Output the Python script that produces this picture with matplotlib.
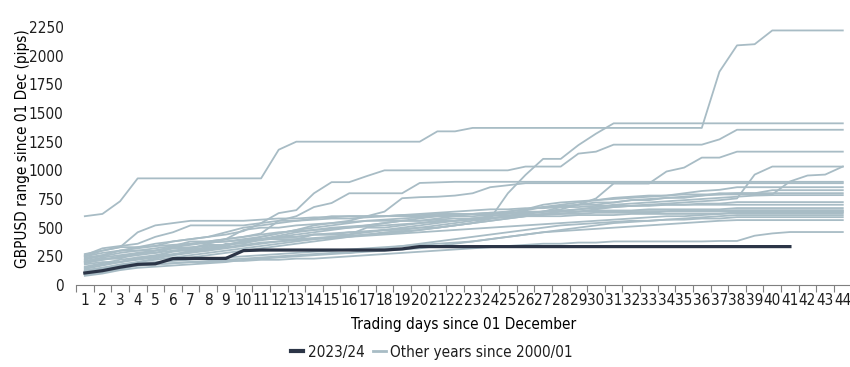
import os
import numpy as np
import matplotlib
matplotlib.use("Agg")
import matplotlib.pyplot as plt
from matplotlib import font_manager
from matplotlib.lines import Line2D

# trading days since 1 December
days = list(range(1, 45))

# GBPUSD high-low range since 01 Dec, pips
gbp_2023_24 = [105, 125, 155, 180, 185, 230, 232, 232, 232, 300,
               305, 305, 305, 305, 305, 305, 305, 305, 315, 335,
               335, 335, 335, 335, 335, 335, 335, 335, 335, 335,
               335, 335, 335, 335, 335, 335, 335, 335, 335, 335,
               335]

other_01 = [600, 620, 730, 930, 930, 930, 930, 930, 930, 930, 930, 1180, 1250, 1250, 1250,
            1250, 1250, 1250, 1250, 1250, 1340, 1340, 1370, 1370, 1370, 1370, 1370, 1370, 1370, 1370,
            1370, 1370, 1370, 1370, 1370, 1370, 1860, 2090, 2100, 2220, 2220, 2220, 2220, 2220]
other_02 = [200, 230, 230, 280, 280, 320, 320, 350, 350, 380, 400, 420, 420, 440, 440,
            460, 460, 480, 480, 500, 500, 520, 540, 580, 800, 960, 1100, 1100, 1220, 1320,
            1410, 1410, 1410, 1410, 1410, 1410, 1410, 1410, 1410, 1410, 1410, 1410, 1410, 1410]
other_03 = [220, 260, 300, 330, 360, 380, 400, 420, 440, 470, 540, 627, 653, 800, 897,
            897, 950, 1000, 1000, 1000, 1000, 1000, 1000, 1000, 1000, 1033, 1033, 1033, 1146, 1163,
            1224, 1224, 1224, 1224, 1224, 1224, 1270, 1354, 1354, 1354, 1354, 1354, 1354, 1354]
other_04 = [160, 190, 220, 240, 260, 290, 310, 330, 350, 370, 390, 410, 420, 440, 450,
            460, 470, 480, 490, 500, 520, 540, 560, 580, 600, 620, 640, 680, 700, 755,
            885, 885, 885, 990, 1024, 1111, 1111, 1163, 1163, 1163, 1163, 1163, 1163, 1163]
other_05 = [140, 170, 200, 230, 250, 270, 290, 310, 330, 350, 370, 380, 400, 410, 420,
            430, 440, 450, 460, 480, 500, 520, 540, 560, 580, 600, 610, 620, 640, 660,
            680, 690, 700, 710, 720, 730, 740, 755, 963, 1033, 1033, 1033, 1033, 1033]
other_06 = [120, 150, 180, 200, 220, 240, 260, 280, 300, 320, 340, 360, 380, 400, 420,
            440, 460, 480, 500, 520, 540, 560, 580, 600, 620, 650, 680, 700, 720, 740,
            760, 770, 780, 780, 790, 790, 790, 790, 790, 790, 903, 955, 963, 1033]
other_07 = [250, 280, 300, 300, 320, 340, 380, 380, 400, 420, 450, 560, 600, 680, 715,
            800, 800, 800, 800, 890, 895, 900, 900, 900, 900, 900, 900, 900, 900, 900,
            900, 900, 900, 900, 900, 900, 900, 900, 900, 900, 900, 900, 900, 900]
other_08 = [200, 220, 250, 270, 300, 330, 350, 370, 380, 400, 420, 450, 480, 520, 540,
            560, 600, 640, 757, 766, 770, 780, 800, 853, 870, 888, 888, 888, 888, 888,
            888, 888, 888, 888, 888, 888, 888, 888, 888, 888, 888, 888, 888, 888]
other_09 = [270, 300, 330, 330, 340, 350, 360, 370, 380, 390, 400, 430, 460, 480, 500,
            510, 520, 540, 560, 580, 600, 610, 620, 630, 640, 660, 700, 720, 730, 740,
            750, 760, 770, 780, 800, 820, 830, 853, 853, 853, 853, 853, 853, 853]
other_10 = [180, 200, 200, 240, 240, 300, 300, 300, 360, 360, 400, 400, 400, 440, 440,
            440, 500, 500, 520, 540, 560, 560, 580, 580, 600, 640, 640, 660, 700, 720,
            720, 740, 740, 760, 760, 780, 800, 800, 800, 827, 827, 827, 827, 827]
other_11 = [100, 130, 160, 200, 230, 260, 300, 320, 340, 380, 420, 450, 480, 500, 520,
            540, 560, 560, 560, 560, 580, 600, 620, 620, 640, 660, 680, 690, 700, 700,
            720, 740, 750, 760, 770, 780, 790, 801, 801, 801, 801, 801, 801, 801]
other_12 = [90, 110, 140, 170, 190, 220, 240, 260, 280, 300, 320, 340, 360, 380, 400,
            420, 440, 460, 470, 480, 500, 520, 540, 560, 580, 600, 620, 640, 660, 680,
            700, 710, 720, 730, 740, 750, 760, 770, 780, 784, 784, 784, 784, 784]
other_13 = [230, 250, 280, 300, 300, 330, 360, 380, 400, 420, 440, 460, 470, 480, 490,
            500, 510, 520, 530, 540, 550, 560, 570, 580, 600, 620, 640, 650, 660, 670,
            680, 690, 690, 700, 700, 710, 710, 723, 723, 723, 723, 723, 723, 723]
other_14 = [260, 320, 340, 360, 420, 460, 520, 520, 520, 520, 540, 560, 560, 570, 580,
            580, 590, 600, 600, 600, 610, 620, 620, 620, 630, 630, 640, 640, 640, 650,
            650, 650, 660, 660, 660, 660, 660, 671, 671, 671, 671, 671, 671, 671]
other_15 = [250, 300, 330, 460, 520, 540, 560, 560, 560, 560, 570, 580, 580, 590, 590,
            600, 600, 600, 610, 610, 620, 620, 620, 630, 630, 630, 640, 640, 640, 640,
            640, 645, 645, 645, 650, 650, 650, 653, 653, 653, 653, 653, 653, 653]
other_16 = [150, 180, 200, 220, 240, 260, 280, 300, 320, 340, 360, 380, 390, 400, 410,
            420, 430, 440, 450, 460, 470, 480, 490, 500, 510, 520, 530, 540, 550, 560,
            570, 580, 590, 600, 600, 610, 620, 636, 636, 636, 636, 636, 636, 636]
other_17 = [210, 240, 260, 280, 300, 320, 330, 340, 350, 380, 400, 420, 440, 460, 480,
            500, 520, 540, 560, 560, 570, 580, 580, 590, 590, 600, 600, 600, 610, 610,
            610, 620, 620, 620, 620, 620, 620, 627, 627, 627, 627, 627, 627, 627]
other_18 = [80, 100, 130, 150, 160, 170, 180, 190, 200, 220, 230, 240, 250, 260, 270,
            280, 290, 300, 310, 320, 340, 360, 380, 400, 420, 440, 460, 480, 500, 520,
            540, 550, 560, 570, 580, 590, 600, 610, 610, 610, 610, 610, 610, 610]
other_19 = [110, 130, 150, 170, 180, 190, 200, 210, 220, 230, 240, 250, 260, 270, 280,
            280, 300, 320, 340, 360, 380, 400, 420, 440, 460, 480, 500, 520, 530, 540,
            550, 560, 560, 570, 570, 580, 580, 592, 592, 592, 592, 592, 592, 592]
other_20 = [130, 150, 170, 190, 200, 210, 220, 230, 240, 250, 260, 270, 280, 290, 300,
            310, 320, 330, 340, 350, 360, 370, 380, 400, 420, 440, 460, 470, 480, 490,
            500, 510, 520, 530, 540, 550, 560, 566, 566, 566, 566, 566, 566, 566]
other_21 = [120, 140, 160, 170, 180, 190, 200, 200, 210, 210, 220, 220, 230, 230, 240,
            250, 260, 270, 280, 290, 300, 310, 320, 330, 340, 350, 360, 360, 370, 370,
            380, 380, 380, 380, 380, 380, 384, 384, 430, 450, 462, 462, 462, 462]
other_22 = [190, 220, 240, 260, 280, 300, 320, 360, 400, 480, 500, 500, 520, 530, 540,
            550, 560, 570, 580, 590, 600, 600, 600, 610, 610, 610, 620, 620, 620, 630,
            630, 630, 630, 640, 640, 640, 640, 645, 645, 645, 645, 645, 645, 645]
other_23 = [240, 260, 300, 320, 340, 380, 400, 420, 460, 500, 520, 540, 560, 580, 600,
            600, 600, 600, 610, 620, 630, 640, 650, 660, 660, 670, 670, 680, 680, 690,
            690, 690, 700, 700, 700, 700, 700, 700, 700, 700, 700, 700, 700, 700]

other_years = [other_01, other_02, other_03, other_04, other_05, other_06, other_07, other_08,
               other_09, other_10, other_11, other_12, other_13, other_14, other_15, other_16,
               other_17, other_18, other_19, other_20, other_21, other_22, other_23]

GREY = "#a8bcc5"
NAVY = "#2c3547"


def pick_narrow_font():
    """look for an installed narrow/condensed regular sans, best first"""
    prefs = ["LiberationSansNarrow-Regular", "ArialNarrow", "DejaVuSansCondensed.",
             "RobotoCondensed-Regular", "NotoSans-Condensed.", "OpenSans-CondensedRegular",
             "OpenSans_Condensed-Regular", "NotoSans-SemiCondensed."]
    entries = font_manager.fontManager.ttflist
    for p in prefs:
        for f in entries:
            if p in os.path.basename(f.fname):
                return f.name, f.stretch
    for f in entries:
        base = os.path.basename(f.fname)
        if ("Narrow" in base or "Condensed" in base) and not any(
                s in base for s in ["Bold", "Italic", "Oblique", "Light", "Thin", "Medium", "Black", "Extra"]):
            return f.name, f.stretch
    return None, None


fam, stretch = pick_narrow_font()
if fam:
    plt.rcParams["font.family"] = [fam, "DejaVu Sans"]
    plt.rcParams["font.stretch"] = stretch
    base_size = 11
else:
    plt.rcParams["font.family"] = ["Liberation Sans", "DejaVu Sans"]
    base_size = 10
plt.rcParams["font.size"] = base_size
plt.rcParams["text.color"] = "#1e1e1e"

fig = plt.figure(figsize=(8.5, 3.67), dpi=100)
ax = fig.add_axes([0.0894, 0.2234, 0.9125, 0.703])

for vals in other_years:
    ax.plot(days, vals, color=GREY, lw=1.3, zorder=2)
ax.plot(days[:len(gbp_2023_24)], gbp_2023_24, color=NAVY, lw=2.3, zorder=3)

ax.set_xlim(0.5, 44.5)
ax.set_ylim(0, 2250)
ax.set_yticks(range(0, 2251, 250))
ax.set_xticks(days)
ax.set_xticks(np.arange(0.5, 45, 1), minor=True)
ax.tick_params(axis="x", which="major", length=0, pad=6, labelcolor="#1e1e1e")
ax.tick_params(axis="x", which="minor", length=5, width=0.8, color="#7f7f7f")
ax.tick_params(axis="y", length=0, pad=9, labelcolor="#1e1e1e")
for side in ["top", "right", "left"]:
    ax.spines[side].set_visible(False)
ax.spines["bottom"].set_color("#7f7f7f")
ax.spines["bottom"].set_linewidth(0.8)

ax.set_xlabel("Trading days since 01 December", labelpad=6)
ax.set_ylabel("GBPUSD range since 01 Dec (pips)")
ax.yaxis.set_label_coords(-0.059, 0.53)

handles = [Line2D([], [], color=NAVY, lw=3),
           Line2D([], [], color=GREY, lw=2)]
fig.legend(handles, ["2023/24", "Other years since 2000/01"], loc="center",
           bbox_to_anchor=(0.508, 0.04), ncol=2, frameon=False,
           handlelength=0.8, handletextpad=0.3, columnspacing=0.6)

fig.savefig("out.png", dpi=100)
